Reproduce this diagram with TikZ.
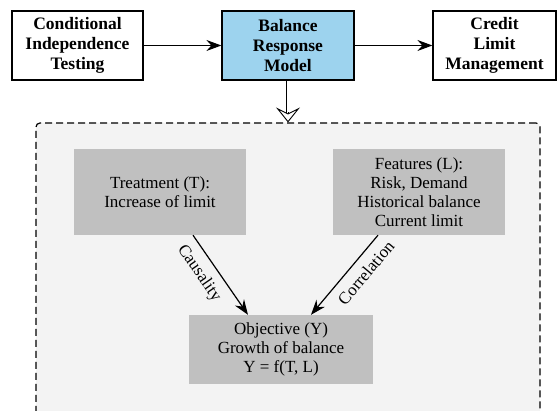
\documentclass[tikz,border=0pt]{standalone}
\usepackage{fontspec}
\setmainfont{Liberation Serif}
\usetikzlibrary{arrows.meta}
\definecolor{modelblue}{HTML}{9DD3EE}
\definecolor{boxgray}{HTML}{C0C0C0}
\definecolor{panelgray}{HTML}{F3F3F3}
\begin{document}
\begin{tikzpicture}[x=1pt,y=-1pt,
  stage/.style={draw,line width=1.2pt,align=center,inner sep=0pt,
    font=\fontsize{17.5}{20}\selectfont\bfseries},
  var/.style={fill=boxgray,align=center,inner sep=0pt,
    font=\fontsize{17}{19}\selectfont},
  flow/.style={line width=1.2pt,-{Stealth[length=15pt,width=11pt,inset=5pt]}},
  tag/.style={sloped,below=5pt,font=\fontsize{17}{19}\selectfont}]
\useasboundingbox (0,0) rectangle (557,411);
\clip (0,0) rectangle (557,411);

% pipeline
\node[stage,minimum width=131pt,minimum height=69pt] (cit) at (77.5,45.5)
  {Conditional\\Independence\\Testing};
\node[stage,fill=modelblue,minimum width=132pt,minimum height=69pt] (brm) at (288,45.5)
  {Balance\\Response\\Model};
\node[stage,minimum width=123pt,minimum height=69pt] (clm) at (494.5,45.5)
  {Credit\\Limit\\Management};
\draw[flow] (cit) -- (brm);
\draw[flow] (brm) -- (clm);

% model detail
\node[draw,fill=panelgray,line width=1.2pt,dash pattern=on 7pt off 4pt,
  rounded corners=4pt,minimum width=504pt,minimum height=320pt] (panel) at (288,283) {};
\draw[double,double distance=3pt,line width=0.9pt] (brm.south) -- ([yshift=8pt]panel.north);
\draw[line width=0.9pt,-{Stealth[open,fill=white,length=15pt,width=24pt,inset=6pt]}]
  ([yshift=10pt]panel.north) -- (panel.north);

\node[var,minimum width=172pt,minimum height=86pt] (treat) at (160,192)
  {Treatment (T):\\Increase of limit};
\node[var,minimum width=172pt,minimum height=86pt] (feat) at (419,192)
  {Features (L):\\Risk, Demand\\Historical balance\\Current limit};
\node[var,minimum width=184pt,minimum height=69pt] (obj) at (281,349.5)
  {Objective (Y)\\Growth of balance\\Y = f(T, L)};
\draw[flow] ([xshift=33pt]treat.south) -- node[tag,pos=0.36] {Causality} ([xshift=-33pt]obj.north);
\draw[flow] ([xshift=-41pt]feat.south) -- node[tag,pos=0.35] {Correlation} ([xshift=30pt]obj.north);
\end{tikzpicture}
\end{document}
